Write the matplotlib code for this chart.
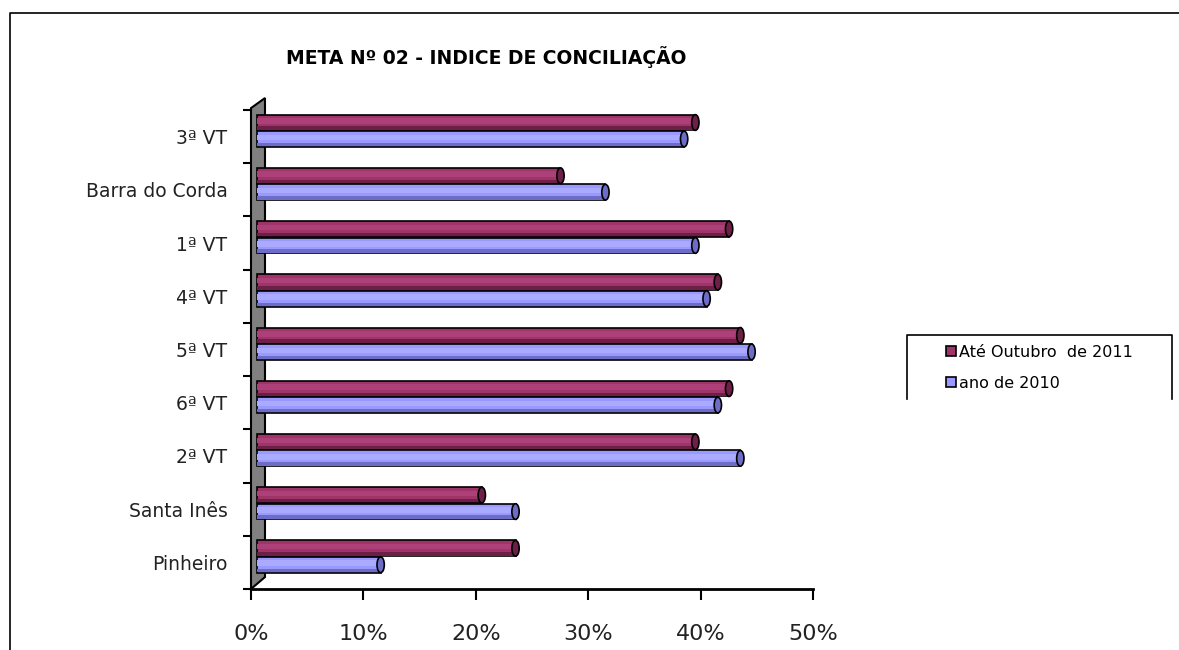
import numpy as np
import matplotlib
matplotlib.use("Agg")
import matplotlib.pyplot as plt
from matplotlib.patches import Ellipse, Polygon, Rectangle
from matplotlib.lines import Line2D
from matplotlib.transforms import offset_copy

# data
categories = ["3ª VT", "Barra do Corda", "1ª VT", "4ª VT", "5ª VT",
              "6ª VT", "2ª VT", "Santa Inês", "Pinheiro"]
ate_out_2011 = [0.39, 0.27, 0.42, 0.41, 0.43, 0.42, 0.39, 0.20, 0.23]
ano_2010 = [0.38, 0.31, 0.39, 0.40, 0.44, 0.41, 0.43, 0.23, 0.11]
series_labels = ["Até Outubro  de 2011", "ano de 2010"]
x_ticks = [0, 0.1, 0.2, 0.3, 0.4, 0.5]
x_ticklabels = ["0%", "10%", "20%", "30%", "40%", "50%"]

red, red_lt, red_dk = "#9E3468", "#AE4079", "#6E1F47"
blue, blue_lt, blue_dk = "#9999FF", "#AAAAFF", "#6D6DC8"

fig = plt.figure(figsize=(11.79, 6.5), dpi=100)
ax = fig.add_axes([251 / 1179, 61 / 650, 562 / 1179, 479 / 650])
ax.set_xlim(0, 0.5)
ax.set_ylim(-0.5, len(categories) - 0.5)

# 3D depth shift of the bars
trans = offset_copy(ax.transData, fig=fig, x=6, y=0, units="dots")

# grey side wall
wall = Polygon([(0, 0), (0, 1.004), (0.0249, 1.025), (0.0249, 0.025)],
               closed=True, transform=ax.transAxes, facecolor="#808080",
               edgecolor="black", lw=1.5, clip_on=False, zorder=1)
ax.add_patch(wall)

h = 0.295
ypos = np.arange(len(categories))[::-1]


def cylinder(vals, centers, base, light, dark):
    ax.barh(centers, vals, height=h, color=base, edgecolor="black", lw=1.2,
            transform=trans, zorder=3)
    ax.barh(centers + 0.1 * h, vals, height=0.35 * h, color=light, lw=0,
            transform=trans, zorder=3)
    ax.barh(centers - 0.36 * h, vals, height=0.22 * h, color=dark, lw=0,
            transform=trans, zorder=3)
    for v, c in zip(vals, centers):
        ax.add_patch(Ellipse((v, c), width=0.0065, height=h, facecolor=dark,
                             edgecolor="black", lw=1.2, transform=trans, zorder=4))


cylinder(ate_out_2011, ypos + 0.265, red, red_lt, red_dk)
cylinder(ano_2010, ypos - 0.045, blue, blue_lt, blue_dk)

# axes styling
for s in ["top", "right", "left"]:
    ax.spines[s].set_visible(False)
ax.spines["bottom"].set_linewidth(2)
ax.set_xticks(x_ticks)
ax.set_xticklabels(x_ticklabels, fontsize=16, color="#222222")
ax.tick_params(axis="x", length=8, width=1.5, pad=17)
ax.set_yticks(ypos)
ax.set_yticklabels(categories, fontsize=13.5, color="#222222")
ax.set_yticks(np.arange(len(categories) + 1) - 0.5, minor=True)
ax.tick_params(axis="y", which="major", length=0, pad=17)
ax.tick_params(axis="y", which="minor", length=6, width=1.5)

fig.text(486 / 1179, 1 - 57 / 650, "META Nº 02 - INDICE DE CONCILIAÇÃO",
         ha="center", va="center", fontsize=13.5, fontweight="bold")

# legend (box open at the bottom)
handles = [Rectangle((0, 0), 1, 1, facecolor=red, edgecolor="black", lw=1.2),
           Rectangle((0, 0), 1, 1, facecolor=blue, edgecolor="black", lw=1.2)]
ax.legend(handles, series_labels, loc="upper left",
          bbox_to_anchor=(938 / 1179, 1 - 337 / 650), bbox_transform=fig.transFigure,
          frameon=False, fontsize=11.5, handlelength=0.6, handleheight=0.6,
          handletextpad=0.2, labelspacing=1.0, borderpad=0)
lx0, lx1, ly0, ly1 = 907 / 1179, 1172 / 1179, 1 - 399 / 650, 1 - 335 / 650
fig.add_artist(Line2D([lx0, lx0, lx1, lx1], [ly0, ly1, ly1, ly0], color="black", lw=1.2))

# outer chart border
fig.add_artist(Line2D([10 / 1179, 10 / 1179, 1.0], [0.0, 1 - 13 / 650, 1 - 13 / 650],
                      color="black", lw=1.2))

fig.savefig("out.png", dpi=100)
